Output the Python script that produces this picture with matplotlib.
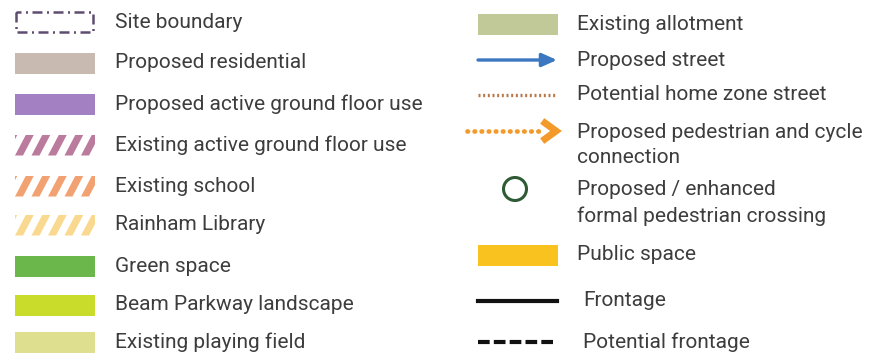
import matplotlib.pyplot as plt
from matplotlib.patches import Rectangle, Polygon, Circle

plt.rcParams['font.family'] = ['Roboto', 'DejaVu Sans']

# left column
left_labels = ['Site boundary', 'Proposed residential', 'Proposed active ground floor use',
               'Existing active ground floor use', 'Existing school', 'Rainham Library',
               'Green space', 'Beam Parkway landscape', 'Existing playing field']
left_kinds = ['boundary', 'fill', 'fill', 'stripe', 'stripe', 'stripe', 'fill', 'fill', 'fill']
left_colors = ['#5e4d70', '#c9bab1', '#a380c2', '#bb7b9d', '#f2a272', '#f9d98f',
               '#6cb74c', '#c9dc2b', '#dfe08f']

# right column
right_labels = ['Existing allotment', 'Proposed street', 'Potential home zone street',
                'Proposed pedestrian and cycle\nconnection',
                'Proposed / enhanced\nformal pedestrian crossing',
                'Public space', 'Frontage', 'Potential frontage']
right_kinds = ['fill', 'arrow', 'dotted', 'dotarrow', 'circle', 'fill', 'line', 'dashed']
right_colors = ['#c2c999', '#3b78c1', '#b8784a', '#f39a2a', '#2e5a34',
                '#f9c21f', '#111111', '#111111']

left_y = [22, 63, 104, 145, 186, 225, 266, 305, 342]
right_y = [24, 60, 95, 131, 189, 255, 301, 342]

fig = plt.figure(figsize=(8.79, 3.53), dpi=100)
ax = fig.add_axes([0, 0, 1, 1])
ax.set_xlim(0, 879)
ax.set_ylim(353, 0)
ax.axis('off')

text_kw = dict(fontsize=15, color='#3d3d3d', va='center', ha='left', linespacing=1.42)


def swatch(x0, yc, kind, color, w=80, h=21):
    if kind == 'fill':
        ax.add_patch(Rectangle((x0, yc - h / 2), w, h, color=color, lw=0))
    elif kind == 'boundary':
        ax.add_patch(Rectangle((x0 + 1, yc - 10), w - 3, 20, fill=False, ec=color,
                               lw=1.8, linestyle=(2, (4, 1.8, 0.8, 1.8))))
    elif kind == 'stripe':
        clip = Rectangle((x0, yc - h / 2), w, h, fill=False, lw=0)
        ax.add_patch(clip)
        for i in range(-1, 6):
            sx = x0 + i * 16.5
            p = Polygon([(sx, yc + h / 2), (sx + 8, yc + h / 2),
                         (sx + 8 + 11, yc - h / 2), (sx + 11, yc - h / 2)],
                        color=color, lw=0)
            ax.add_patch(p)
            p.set_clip_path(clip)


for lab, kind, col, y in zip(left_labels, left_kinds, left_colors, left_y):
    swatch(15, y, kind, col)
    ax.text(115, y, lab, **text_kw)

for lab, kind, col, y in zip(right_labels, right_kinds, right_colors, right_y):
    x0, x1 = 478, 557
    if kind == 'fill':
        swatch(x0, y, kind, col)
    elif kind == 'arrow':
        ax.annotate('', xy=(x1, y), xytext=(x0, y),
                    arrowprops=dict(arrowstyle='-|>,head_length=0.9,head_width=0.4',
                                    color=col, lw=2.4, shrinkA=0, shrinkB=0))
    elif kind == 'dotted':
        ax.plot([x0, x1], [y, y], color=col, lw=2.4, linestyle=(0, (0.6, 0.8)))
    elif kind == 'dotarrow':
        ax.plot([x0 - 11, x1 - 16], [y, y], color=col, lw=3.4, linestyle=(0, (0.1, 1.4)),
                dash_capstyle='round')
        ax.plot([x1 - 12, x1 - 1, x1 - 12], [y - 8, y, y + 8], color=col, lw=5,
                solid_joinstyle='miter')
    elif kind == 'circle':
        ax.add_patch(Circle((515, y), 11.5, fill=False, ec=col, lw=2.2))
    elif kind == 'line':
        ax.plot([x0, x1], [y, y], color=col, lw=3)
    elif kind == 'dashed':
        ax.plot([x0, x1], [y, y], color=col, lw=3, linestyle=(0, (2.8, 1.0)))
    if '\n' in lab:
        ax.text(577, y + 14, lab, **text_kw)
    else:
        ax.text(577 + (6 if kind in ('line', 'dashed') else 0), y, lab, **text_kw)

fig.savefig('out.png', dpi=100, facecolor='white')
